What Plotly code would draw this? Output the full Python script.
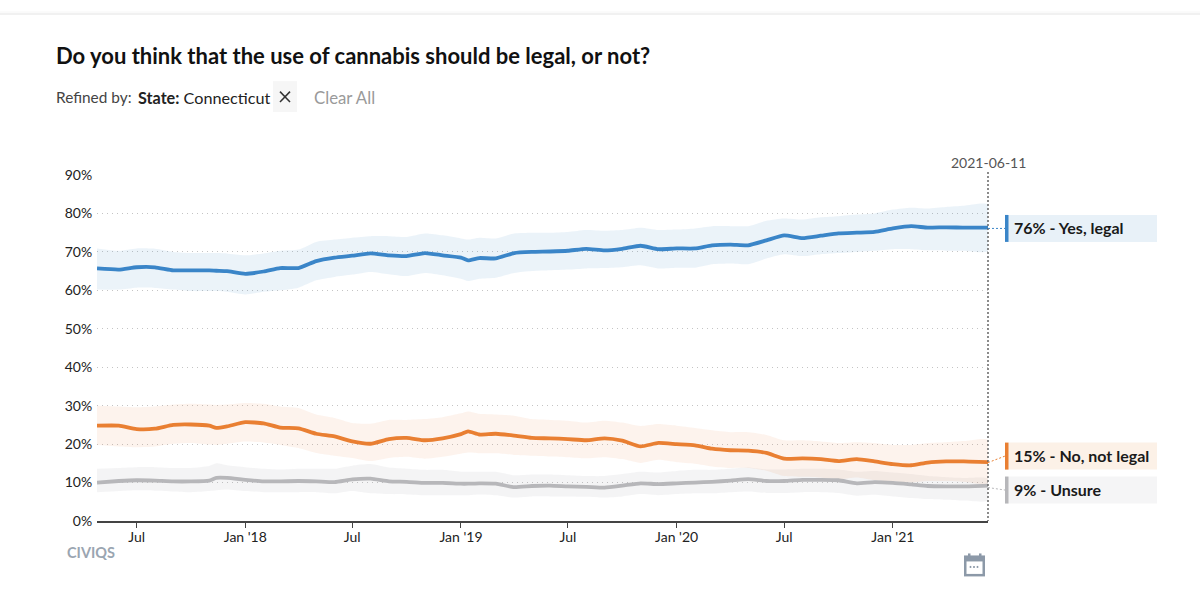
import plotly.graph_objects as go

W, H = 1200, 599
L, R, T, B = 97, 988, 175, 521.5

dates = ['2017-04-25', '2017-06-01', '2017-07-01', '2017-08-01', '2017-09-01', '2017-10-01', '2017-11-01', '2017-11-13', '2017-12-01',
         '2018-01-01', '2018-02-01', '2018-03-01', '2018-04-01', '2018-05-01', '2018-06-01', '2018-07-01', '2018-08-01', '2018-09-01', '2018-10-01', '2018-11-01', '2018-12-01',
         '2019-01-01', '2019-01-13', '2019-02-01', '2019-03-01', '2019-04-01', '2019-05-01', '2019-06-01', '2019-07-01', '2019-08-01', '2019-09-01', '2019-10-01', '2019-11-01', '2019-12-01',
         '2020-01-01', '2020-02-01', '2020-03-01', '2020-04-01', '2020-05-01', '2020-06-01', '2020-07-01', '2020-08-01', '2020-09-01', '2020-10-01', '2020-11-01', '2020-12-01',
         '2021-01-01', '2021-02-01', '2021-03-01', '2021-04-01', '2021-05-01', '2021-06-11']

yes = [65.7, 65.4, 66, 66, 65.2, 65.2, 65.2, 65.1, 65, 64.3, 64.9, 65.8, 65.8, 67.6, 68.5, 69, 69.6, 69.1, 68.9, 69.7, 69.1,
       68.5, 67.8, 68.4, 68.3, 69.7, 70, 70.1, 70.3, 70.8, 70.4, 70.8, 71.6, 70.7,
       70.9, 70.9, 71.7, 71.9, 71.7, 73, 74.3, 73.6, 74.2, 74.8, 75, 75.2, 76.1, 76.7, 76.3, 76.4, 76.3, 76.3]
yes_hi = [70.9, 70.3, 70.9, 70.8, 70, 69.7, 69.7, 69.7, 69.6, 69.1, 69.6, 70.3, 70.6, 72.6, 73.2, 73.7, 74.1, 74.1, 73.9, 74.8, 74.3,
          73.5, 73.2, 73.7, 73.5, 74.8, 75, 75, 75.2, 75.7, 75.5, 75.7, 76.3, 75.7,
          75.8, 76.1, 76.7, 76.7, 76.7, 78.1, 78.7, 78.4, 79, 79.3, 79.7, 80, 81, 81.5, 81.3, 81.7, 82, 82.3]
yes_lo = [60.2, 60.2, 60.7, 60.6, 60.2, 59.8, 59.8, 59.8, 59.6, 58.9, 59.6, 60, 60.7, 62.6, 63.5, 64.1, 64.8, 64.2, 63.7, 64.5, 63.9,
          63, 62.4, 63, 63.3, 64.5, 65, 65.2, 65.4, 65.7, 65.8, 66, 66.5, 65.7,
          65.9, 65.9, 66.8, 67, 66.8, 68.3, 69.4, 68.9, 69.4, 69.7, 70, 70.3, 70.7, 70.7, 70.4, 70.3, 70.3, 70.2]

no = [24.8, 24.8, 23.9, 24, 25, 25.1, 24.8, 24.2, 24.6, 25.7, 25.4, 24.3, 24.1, 22.7, 22, 20.7, 20.1, 21.3, 21.6, 21, 21.5,
      22.6, 23.3, 22.5, 22.7, 22.2, 21.6, 21.5, 21.3, 21, 21.5, 20.9, 19.4, 20.3,
      20, 19.7, 18.8, 18.4, 18.3, 17.7, 16.2, 16.3, 16.1, 15.6, 16.1, 15.5, 14.8, 14.5, 15.2, 15.5, 15.5, 15.3]
no_hi = [30, 29.8, 29.6, 29.8, 30.3, 30.5, 30.3, 30.2, 30.3, 30.7, 30.5, 29.8, 29.4, 27.7, 26.8, 25.5, 25.3, 26.3, 26.3, 26.5, 27,
         28, 28.5, 27.9, 27.7, 27.4, 26.5, 26.3, 26.1, 25.6, 26.1, 25.6, 24.7, 25.2,
         24.8, 24.2, 23.6, 23.1, 23.1, 22.4, 21, 21, 20.7, 20.3, 20.5, 20.3, 19.8, 19.8, 20.3, 20.5, 20.8, 21.1]
no_lo = [19.8, 19.4, 19.2, 19.4, 20.1, 20.3, 19.9, 19.8, 20.1, 20.7, 20.4, 19.8, 19, 17.7, 17, 16.4, 15.6, 16.4, 16.7, 16.2, 16.7,
         17.5, 17.8, 17.6, 17.6, 17.2, 17, 16.8, 16.6, 16.3, 16.6, 16.1, 15.1, 15.9,
         15.3, 14.9, 14.2, 13.8, 13.8, 13.1, 11.7, 11.5, 11.3, 10.8, 11.3, 10.6, 10.2, 10, 10.4, 10.4, 10.2, 9.8]

unsure = [10, 10.4, 10.6, 10.5, 10.3, 10.3, 10.5, 11.2, 11.2, 10.7, 10.3, 10.3, 10.4, 10.3, 10.1, 10.8, 11, 10.3, 10.2, 9.9, 9.9,
          9.7, 9.7, 9.8, 9.7, 8.8, 9.1, 9.2, 9, 8.9, 8.7, 9.2, 9.8, 9.6,
          9.8, 10, 10.2, 10.5, 10.9, 10.4, 10.4, 10.7, 10.7, 10.6, 9.8, 10.1, 9.9, 9.5, 9.1, 9, 9, 9.2]
unsure_hi = [13.6, 13.8, 14, 14, 13.8, 13.8, 14.3, 15, 14.5, 14, 13.6, 13.4, 13.6, 13.6, 13.6, 14.4, 14.8, 13.9, 13.6, 13.3, 13.3,
             12.8, 12.8, 12.8, 12.8, 11.9, 12.1, 12.1, 11.9, 11.7, 11.7, 12.2, 12.8, 12.6,
             13, 13.3, 13.3, 13.6, 13.9, 13.4, 13.4, 13.6, 13.6, 13.4, 12.8, 13, 12.6, 12.2, 11.7, 11.4, 11.2, 11]
unsure_lo = [7.5, 7.8, 8, 7.9, 7.7, 7.5, 7.8, 8, 8.2, 7.8, 7.5, 7.5, 7.5, 7.5, 7.2, 7.8, 7.2, 7, 6.9, 6.7, 6.7,
             6.7, 6.7, 6.9, 6.7, 6.1, 6.4, 6.4, 6.4, 6.3, 6.1, 6.4, 7, 6.7,
             7, 7.2, 7.2, 7.5, 7.7, 7.3, 7.3, 7.5, 7.5, 7.3, 6.6, 6.8, 6.4, 6, 5.7, 5.5, 5.3, 5.3]

tick_dates = ['2017-07-01', '2018-01-01', '2018-07-01', '2019-01-01', '2019-07-01', '2020-01-01', '2020-07-01', '2021-01-01']
tick_labels = ['Jul', "Jan '18", 'Jul', "Jan '19", 'Jul', "Jan '20", 'Jul', "Jan '21"]
y_ticks = [0, 10, 20, 30, 40, 50, 60, 70, 80, 90]

BLUE, ORANGE, GREY = '#3A85C8', '#E97F32', '#B7B7BA'


# pixel position in the page -> paper coordinates of the plot area
def px(x):
    return (x - L) / (R - L)


def py(y):
    return (B - y) / (B - T)


fig = go.Figure()

series = [(unsure, unsure_hi, unsure_lo, GREY, 'rgba(150,150,160,0.10)'),
          (no, no_hi, no_lo, ORANGE, 'rgba(233,127,50,0.09)'),
          (yes, yes_hi, yes_lo, BLUE, 'rgba(58,133,200,0.10)')]

for vals, hi, lo, color, band in series:
    fig.add_trace(go.Scatter(x=dates + dates[::-1], y=hi + lo[::-1], fill='toself', fillcolor=band,
                             mode='lines', line=dict(width=0, shape='spline', smoothing=0.6), hoverinfo='skip'))
for vals, hi, lo, color, band in series:
    fig.add_trace(go.Scatter(x=dates, y=vals, mode='lines', line=dict(color=color, width=3.8, shape='spline', smoothing=0.5)))

shapes = []


def rect(x0, y0, x1, y1, color):
    shapes.append(dict(type='rect', xref='paper', yref='paper', x0=px(x0), x1=px(x1), y0=py(y0), y1=py(y1),
                       fillcolor=color, line=dict(width=0), layer='above'))


def line(x0, y0, x1, y1, color, width=1, dash='solid'):
    shapes.append(dict(type='line', xref='paper', yref='paper', x0=px(x0), x1=px(x1), y0=py(y0), y1=py(y1),
                       line=dict(color=color, width=width, dash=dash), layer='above'))


# top bar of the page
rect(0, 11, W, 13, '#FAFAFA')
rect(0, 13, W, 14.5, '#EDEDED')

# refine chip
rect(273, 81, 297, 112, '#F6F6F6')
line(280, 91.5, 290, 102, '#333333', 1.5)
line(280, 102, 290, 91.5, '#333333', 1.5)

# end of data marker
line(R, 172, R, B, '#666666', 1.5, '2px,2px')

# end labels
labels = [(215, 242, '#E8F1F8', BLUE, '76% - Yes, legal', 227.5),
          (443, 470, '#FCF1E7', ORANGE, '15% - No, not legal', 455.5),
          (477, 504, '#F5F5F6', GREY, '9% - Unsure', 489.5)]
for y0, y1, bg, color, text_, yc in labels:
    rect(1005, y0, 1157, y1, bg)
    rect(1005, y0, 1008.5, y1, color)
line(R, 228.5, 1005, 228.5, BLUE, 1, '2px,2px')
line(R, 463, 1005, 456.5, ORANGE, 1, '2px,2px')
line(R, 488, 1005, 490.5, GREY, 1, '2px,2px')

# calendar icon
rect(964, 556, 985, 577, '#8C99A8')
rect(966.5, 562, 982.5, 574.5, '#FFFFFF')
rect(968, 554, 970.5, 558, '#8C99A8')
rect(979, 554, 981.5, 558, '#8C99A8')
for cx in [970.5, 974, 977.5]:
    rect(cx - 0.8, 566.5, cx + 0.8, 568.5, '#8C99A8')

annotations = []


def text(x, y, s, size, color, anchor='left'):
    annotations.append(dict(x=px(x), y=py(y), xref='paper', yref='paper', text=s, showarrow=False,
                            xanchor=anchor, yanchor='middle', align=anchor,
                            font=dict(family='Lato', size=size, color=color), borderpad=0, borderwidth=0))


text(56, 55, '<b>Do you think that the use of cannabis should be legal, or not?</b>', 22, '#111111')
text(56, 97, 'Refined by:', 15.4, '#444444')
text(138, 97, '<b>State:</b> Connecticut', 16.2, '#222222')
text(314, 97, 'Clear All', 16.8, '#9A9A9A')
text(988, 162, '2021-06-11', 14, '#555555', 'center')
for y0, y1, bg, color, s, yc in labels:
    text(1014, yc, '<b>' + s + '</b>', 16, '#1A1A1A')
text(67, 553, '<b>CIVIQS</b>', 14.5, '#9AA5B1')

fig.update_layout(
    width=W, height=H, showlegend=False, hovermode=False,
    margin=dict(l=L, r=W - R, t=T, b=H - B, pad=0),
    paper_bgcolor='white', plot_bgcolor='white',
    font=dict(family='Lato', size=14, color='#222222'),
    shapes=shapes, annotations=annotations,
)
fig.update_xaxes(range=[dates[0], dates[-1]], tickmode='array', tickvals=tick_dates, ticktext=tick_labels,
                 ticks='outside', ticklen=5, tickcolor='#444444', tickwidth=1.2, showgrid=False,
                 showline=True, linecolor='#444444', linewidth=1.5, zeroline=False, ticklabelstandoff=-3,
                 tickfont=dict(family='Lato', size=14, color='#222222'))
fig.update_yaxes(range=[0, 90], tickmode='array', tickvals=y_ticks, ticktext=[str(v) + '%' for v in y_ticks],
                 showgrid=True, gridcolor='#C4C4C4', griddash='1px,4px', gridwidth=1, zeroline=False,
                 ticks='outside', ticklen=1, tickcolor='rgba(0,0,0,0)',
                 tickfont=dict(family='Lato', size=14, color='#222222'))

# the page margin would push the figure 8px off the window
fig.write_html("out.html", config={'displayModeBar': False},
               post_script="document.body.style.margin='0';document.body.style.overflow='hidden';")
